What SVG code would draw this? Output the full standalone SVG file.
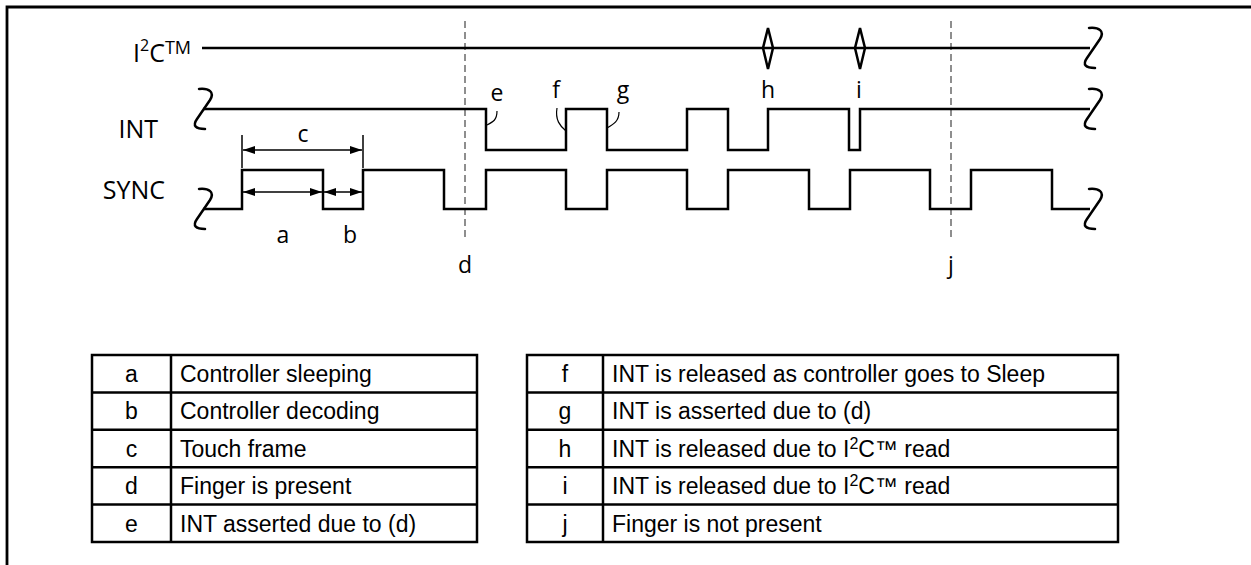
<svg xmlns="http://www.w3.org/2000/svg" width="1251" height="565" viewBox="0 0 1251 565">
<style>
.w{fill:none;stroke:#000;stroke-width:2.5;stroke-linejoin:miter}
.brk{fill:none;stroke:#000;stroke-width:2.5;stroke-linecap:round}
.thin{fill:none;stroke:#000;stroke-width:1.2}
.dash{fill:none;stroke:#444;stroke-width:1.2;stroke-dasharray:7 4}
.lbl{font-family:"Open Sans","Noto Sans",sans-serif;font-size:23px;fill:#000}
.big{font-family:"Open Sans","Noto Sans",sans-serif;font-size:25px;fill:#000}
.tb{font-family:"Liberation Sans",Arial,sans-serif;font-size:23px;fill:#000}
.grid{fill:none;stroke:#000;stroke-width:2.5}
.dim{fill:none;stroke:#000;stroke-width:1.5}
</style>
<defs>
<marker id="ah" viewBox="0 0 12 8" refX="12" refY="4" markerWidth="12" markerHeight="8" markerUnits="userSpaceOnUse" orient="auto-start-reverse">
<path d="M0,0 L12,4 L0,8 Z" fill="#000"/>
</marker>
<path id="bk" d="M-4,-20 C6,-21 12,-17 7,-9 L-6,10 C-11,17 -7,20 2,20"/>
</defs>

<path d="M7,565 L7,7 L1251,7" fill="none" stroke="#000" stroke-width="2.8"/>

<g id="labels">
<text class="big" x="191" y="62" text-anchor="end">I<tspan font-size="16" dy="-11">2</tspan><tspan dy="11">C</tspan><tspan font-size="18" dy="-8">TM</tspan></text>
<text class="big" x="158" y="138" text-anchor="end">INT</text>
<text class="big" x="165" y="199" text-anchor="end">SYNC</text>
</g>

<g id="guides">
<line class="dash" x1="465" y1="21" x2="465" y2="240"/>
<line class="dash" x1="951" y1="21" x2="951" y2="240"/>
</g>

<g id="i2c">
<line class="w" x1="202" y1="48" x2="1090" y2="48"/>
<path class="w" d="M768,28 L773,48 L768,69 L763,48 Z" fill="#fff"/>
<path class="w" d="M860,28 L865,48 L860,69 L855,48 Z" fill="#fff"/>
<use href="#bk" class="brk" x="1093" y="48"/>
</g>

<g id="int">
<path class="w" d="M203,109 H486 V150 H566 V109 H607 V150 H687 V109 H728 V150 H768 V109 H849 V150 H860 V109 H1090"/>
<use href="#bk" class="brk" x="203" y="109"/>
<use href="#bk" class="brk" x="1093" y="109"/>
</g>

<g id="sync">
<path class="w" d="M203,209 H242 V170 H323 V209 H363 V170 H444 V209 H486 V170 H566 V209 H607 V170 H687 V209 H728 V170 H809 V209 H850 V170 H930 V209 H971 V170 H1052 V209 H1090"/>
<use href="#bk" class="brk" x="203" y="209"/>
<use href="#bk" class="brk" x="1093" y="209"/>
</g>

<g id="connectors">
<line class="dim" x1="242" y1="135" x2="242" y2="168"/>
<line class="dim" x1="363" y1="135" x2="363" y2="168"/>
<line class="dim" x1="243" y1="150" x2="362" y2="150" marker-start="url(#ah)" marker-end="url(#ah)"/>
<line class="dim" x1="243" y1="192" x2="322" y2="192" marker-start="url(#ah)" marker-end="url(#ah)"/>
<line class="dim" x1="324" y1="192" x2="362" y2="192" marker-start="url(#ah)" marker-end="url(#ah)"/>
<path class="thin" d="M497,111 C497,120 493,122 487,125"/>
<path class="thin" d="M557,108 C555,120 560,126 566,131"/>
<path class="thin" d="M619,112 C619,121 614,124 607,128"/>
</g>

<g id="marks" class="lbl" text-anchor="middle">
<text x="303" y="142">c</text>
<text x="283" y="243">a</text>
<text x="350" y="243">b</text>
<text x="465" y="273">d</text>
<text x="951" y="273">j</text>
<text x="497" y="101">e</text>
<text x="556" y="98">f</text>
<text x="623" y="98">g</text>
<text x="768" y="98">h</text>
<text x="859" y="98">i</text>
</g>

<g id="table-left">
<rect class="grid" x="92" y="355" width="385" height="187"/>
<line class="grid" x1="171" y1="355" x2="171" y2="542"/>
<line class="grid" x1="92" y1="392.4" x2="477" y2="392.4"/>
<line class="grid" x1="92" y1="429.8" x2="477" y2="429.8"/>
<line class="grid" x1="92" y1="467.2" x2="477" y2="467.2"/>
<line class="grid" x1="92" y1="504.6" x2="477" y2="504.6"/>
<g class="tb">
<text x="131.5" y="382" text-anchor="middle">a</text>
<text x="180" y="382">Controller sleeping</text>
<text x="131.5" y="419.4" text-anchor="middle">b</text>
<text x="180" y="419.4">Controller decoding</text>
<text x="131.5" y="456.8" text-anchor="middle">c</text>
<text x="180" y="456.8">Touch frame</text>
<text x="131.5" y="494.2" text-anchor="middle">d</text>
<text x="180" y="494.2">Finger is present</text>
<text x="131.5" y="531.6" text-anchor="middle">e</text>
<text x="180" y="531.6">INT asserted due to (d)</text>
</g>
</g>

<g id="table-right">
<rect class="grid" x="527" y="355" width="591" height="187"/>
<line class="grid" x1="603" y1="355" x2="603" y2="542"/>
<line class="grid" x1="527" y1="392.4" x2="1118" y2="392.4"/>
<line class="grid" x1="527" y1="429.8" x2="1118" y2="429.8"/>
<line class="grid" x1="527" y1="467.2" x2="1118" y2="467.2"/>
<line class="grid" x1="527" y1="504.6" x2="1118" y2="504.6"/>
<g class="tb">
<text x="565" y="382" text-anchor="middle">f</text>
<text x="612" y="382">INT is released as controller goes to Sleep</text>
<text x="565" y="419.4" text-anchor="middle">g</text>
<text x="612" y="419.4">INT is asserted due to (d)</text>
<text x="565" y="456.8" text-anchor="middle">h</text>
<text x="612" y="456.8">INT is released due to I<tspan font-size="16" dy="-8">2</tspan><tspan dy="8">C™ read</tspan></text>
<text x="565" y="494.2" text-anchor="middle">i</text>
<text x="612" y="494.2">INT is released due to I<tspan font-size="16" dy="-8">2</tspan><tspan dy="8">C™ read</tspan></text>
<text x="565" y="531.6" text-anchor="middle">j</text>
<text x="612" y="531.6">Finger is not present</text>
</g>
</g>
</svg>
